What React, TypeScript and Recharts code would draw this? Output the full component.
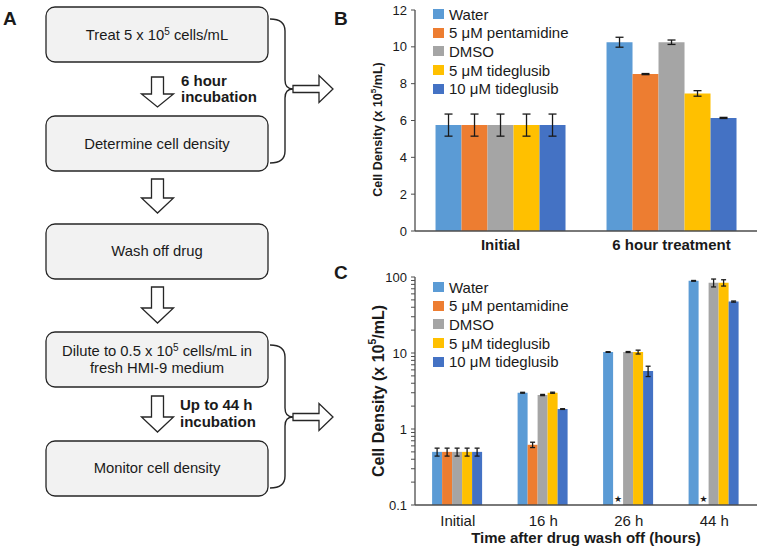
import React from 'react';
import { BarChart, Bar, XAxis, YAxis, ErrorBar, Legend, Rectangle } from 'recharts';

const FONT = '"Liberation Sans", Arial, sans-serif';
const INK = '#1a1a1a';
const AXIS = '#4d4d4d';

// series shared by both charts
const seriesKeys = ['water', 'pentamidine', 'dmso', 'tide5', 'tide10'];
const seriesNames = ['Water', '5 μM pentamidine', 'DMSO', '5 μM tideglusib', '10 μM tideglusib'];
const seriesColors = ['#5B9BD5', '#ED7D31', '#A5A5A5', '#FFC000', '#4472C4'];

// panel B: 6 hour treatment (x 10^5 cells/mL)
const treatmentLabels = ['Initial', '6 hour treatment'];
const treatWater = [5.75, 10.25];
const treatPent = [5.75, 8.52];
const treatDmso = [5.75, 10.25];
const treatTide5 = [5.75, 7.47];
const treatTide10 = [5.75, 6.14];
const treatWaterErr = [0.6, 0.27];
const treatPentErr = [0.6, 0.03];
const treatDmsoErr = [0.6, 0.12];
const treatTide5Err = [0.6, 0.15];
const treatTide10Err = [0.6, 0.03];
const treatTicks = [0, 2, 4, 6, 8, 10, 12];

// panel C: after wash off (log scale)
const washLabels = ['Initial', '16 h', '26 h', '44 h'];
const washWater = [0.5, 3.0, 10.3, 89];
const washPent = [0.5, 0.62, null, null];
const washDmso = [0.5, 2.8, 10.3, 84];
const washTide5 = [0.5, 3.0, 10.3, 84];
const washTide10 = [0.5, 1.83, 5.8, 47.5];
const washWaterErr = [0.06, 0.04, 0.1, 1];
const washPentErr = [0.06, 0.05, null, null];
const washDmsoErr = [0.06, 0.05, 0.15, 10];
const washTide5Err = [0.06, 0.05, 0.6, 8];
const washTide10Err = [0.06, 0.02, 0.9, 0.8];
const washPentStar = [false, false, true, true];
const LOG_FLOOR = 0.1;
const logMajorTicks = [0.1, 1, 10, 100];
const logTicks = [
  0.1, 0.2, 0.3, 0.4, 0.5, 0.6, 0.7, 0.8, 0.9,
  1, 2, 3, 4, 5, 6, 7, 8, 9,
  10, 20, 30, 40, 50, 60, 70, 80, 90, 100,
];

function buildRows(labels: string[], means: (number | null)[][], errs: (number | null)[][]) {
  return labels.map((label, i) => {
    const row: any = { label };
    seriesKeys.forEach((k, s) => {
      row[k] = means[s][i];
      row[k + 'Err'] = errs[s][i];
    });
    return row;
  });
}

const treatmentData = buildRows(
  treatmentLabels,
  [treatWater, treatPent, treatDmso, treatTide5, treatTide10],
  [treatWaterErr, treatPentErr, treatDmsoErr, treatTide5Err, treatTide10Err]
);

const washData = buildRows(
  washLabels,
  [washWater, washPent, washDmso, washTide5, washTide10],
  [washWaterErr, washPentErr, washDmsoErr, washTide5Err, washTide10Err]
).map((row, i) => ({
  ...row,
  pentamidine: row.pentamidine ?? LOG_FLOOR, // no growth: sits on the axis, marked with a star
  star: washPentStar[i],
}));

const LegendBlock = () => (
  <div style={{ fontFamily: FONT, fontSize: 15, color: INK, lineHeight: 1 }}>
    {seriesNames.map((name, i) => (
      <div key={name} style={{ display: 'flex', alignItems: 'center', height: 18.6, whiteSpace: 'nowrap' }}>
        <span style={{ display: 'inline-block', width: 11, height: 10, background: seriesColors[i], marginRight: 5 }} />
        {name}
      </div>
    ))}
  </div>
);

const yTitle = (dxFromLeft: number, shift: number, size: number) => (props: any) => {
  const vb = props.viewBox;
  const cx = vb.x + dxFromLeft;
  const cy = vb.y + vb.height / 2 + shift;
  return (
    <text
      x={cx}
      y={cy}
      transform={`rotate(-90, ${cx}, ${cy})`}
      textAnchor="middle"
      dominantBaseline="central"
      fontFamily={FONT}
      fontWeight="bold"
      fontSize={size}
      fill={INK}
    >
      Cell Density (x 10
      <tspan dy={-size * 0.4} fontSize={size * 0.65}>5</tspan>
      <tspan dy={size * 0.4}>/mL)</tspan>
    </text>
  );
};

const xTitle = (props: any) => {
  const vb = props.viewBox;
  return (
    <text x={vb.x + vb.width / 2} y={vb.y + 38} textAnchor="middle" fontFamily={FONT} fontWeight="bold" fontSize={15} fill={INK}>
      Time after drug wash off (hours)
    </text>
  );
};

// pentamidine bar: normal rectangle, plus a star where no growth was seen
const PentShape = (props: any) => {
  const { x, y, width, payload } = props;
  return (
    <g>
      <Rectangle {...props} />
      {payload && payload.star && (
        <text x={x + width / 2} y={y - 3} textAnchor="middle" fontSize={9} fontFamily="DejaVu Sans" fill={INK}>
          ★
        </text>
      )}
    </g>
  );
};

function TreatmentChart() {
  return (
    <BarChart
      width={401}
      height={262}
      data={treatmentData}
      margin={{ top: 10, right: 4, left: 0, bottom: 0 }}
      barCategoryGap="12%"
      barGap={0}
    >
      <XAxis
        dataKey="label"
        height={31}
        tickLine={false}
        axisLine={{ stroke: AXIS, strokeWidth: 1.3 }}
        tick={{ fontFamily: FONT, fontSize: 15, fontWeight: 'bold', fill: INK }}
      />
      <YAxis
        width={55}
        domain={[0, 12]}
        ticks={treatTicks}
        interval={0}
        tickSize={4}
        tickMargin={4}
        axisLine={{ stroke: AXIS, strokeWidth: 1.3 }}
        tickLine={{ stroke: AXIS }}
        tick={{ fontFamily: FONT, fontSize: 13, fill: INK }}
        label={yTitle(18, 9, 12.5)}
      />
      <Legend
        layout="horizontal"
        verticalAlign="middle"
        align="center"
        content={() => <LegendBlock />}
        wrapperStyle={{ left: 73, top: 5, width: 'auto' }}
      />
      {seriesKeys.map((k, i) => (
        <Bar key={k} dataKey={k} name={seriesNames[i]} fill={seriesColors[i]} isAnimationActive={false}>
          <ErrorBar dataKey={k + 'Err'} width={4} strokeWidth={1.3} stroke={INK} direction="y" />
        </Bar>
      ))}
    </BarChart>
  );
}

function WashChart() {
  return (
    <BarChart
      width={401}
      height={277}
      data={washData}
      margin={{ top: 7, right: 4, left: 0, bottom: 0 }}
      barCategoryGap="20%"
      barGap={0}
    >
      <XAxis
        dataKey="label"
        height={42}
        tickLine={false}
        tickMargin={4}
        axisLine={{ stroke: AXIS, strokeWidth: 1.3 }}
        tick={{ fontFamily: FONT, fontSize: 15, fill: INK }}
        label={xTitle}
      />
      <YAxis
        width={55}
        scale="log"
        domain={[LOG_FLOOR, 100]}
        allowDataOverflow
        ticks={logTicks}
        interval={0}
        tickSize={4}
        tickMargin={4}
        tickFormatter={(v: number) => (logMajorTicks.includes(v) ? String(v) : '')}
        axisLine={{ stroke: AXIS, strokeWidth: 1.3 }}
        tickLine={{ stroke: AXIS }}
        tick={{ fontFamily: FONT, fontSize: 13, fill: INK }}
        label={yTitle(18, 0, 16)}
      />
      <Legend
        layout="horizontal"
        verticalAlign="middle"
        align="center"
        content={() => <LegendBlock />}
        wrapperStyle={{ left: 73, top: 8, width: 'auto' }}
      />
      {seriesKeys.map((k, i) => (
        <Bar
          key={k}
          dataKey={k}
          name={seriesNames[i]}
          fill={seriesColors[i]}
          isAnimationActive={false}
          shape={k === 'pentamidine' ? PentShape : undefined}
        >
          <ErrorBar dataKey={k + 'Err'} width={2.5} strokeWidth={1.3} stroke={INK} direction="y" />
        </Bar>
      ))}
    </BarChart>
  );
}

// flowchart (panel A)
const BOX_X = 46;
const BOX_W = 222;
const BOX_H = 55;
const boxTops = [7, 116, 224, 332, 441];
const downArrows = [
  [77, 94, 107],
  [179, 198, 213],
  [287, 308, 323],
  [396, 417, 432],
];
const braces = [
  [19, 89, 163],
  [345, 417, 488],
];

function DownArrow({ top, head, tip }: { top: number; head: number; tip: number }) {
  const cx = 157.5;
  const pts = [
    [cx - 6, top], [cx + 6, top], [cx + 6, head], [cx + 16, head],
    [cx, tip], [cx - 16, head], [cx - 6, head],
  ].map((p) => p.join(',')).join(' ');
  return <polygon points={pts} fill="#fff" stroke="#262626" strokeWidth={1.3} strokeLinejoin="miter" />;
}

function Brace({ top, mid, bottom }: { top: number; mid: number; bottom: number }) {
  const d = `M270,${top} Q285,${top} 285,${top + 12} L285,${mid - 9} Q285,${mid} 293,${mid} Q285,${mid} 285,${mid + 9} L285,${bottom - 12} Q285,${bottom} 270,${bottom}`;
  const pts = [
    [293, mid - 3.5], [319, mid - 3.5], [319, mid - 13.5], [333, mid],
    [319, mid + 13.5], [319, mid + 3.5], [293, mid + 3.5],
  ].map((p) => p.join(',')).join(' ');
  return (
    <g>
      <path d={d} fill="none" stroke="#262626" strokeWidth={1.4} />
      <polygon points={pts} fill="#fff" stroke="#262626" strokeWidth={1.3} />
    </g>
  );
}

function Flowchart() {
  const t = { fontFamily: FONT, fontSize: 14.8, fill: INK, textAnchor: 'middle' as const };
  const b = { fontFamily: FONT, fontSize: 15, fontWeight: 'bold' as const, fill: INK };
  const cx = BOX_X + BOX_W / 2;
  return (
    <svg width={761} height={547} style={{ position: 'absolute', left: 0, top: 0 }}>
      <text x={3} y={25} fontFamily={FONT} fontWeight="bold" fontSize={19} fill={INK}>A</text>
      <text x={334} y={25} fontFamily={FONT} fontWeight="bold" fontSize={19} fill={INK}>B</text>
      <text x={334} y={279} fontFamily={FONT} fontWeight="bold" fontSize={19} fill={INK}>C</text>
      {boxTops.map((y) => (
        <rect key={y} x={BOX_X} y={y} width={BOX_W} height={BOX_H} rx={9} fill="#F2F2F2" stroke="#262626" strokeWidth={1.3} />
      ))}
      <text x={cx} y={40} {...t}>
        Treat 5 x 10<tspan dy={-5} fontSize={10}>5</tspan><tspan dy={5}> cells/mL</tspan>
      </text>
      <text x={cx} y={149} {...t}>Determine cell density</text>
      <text x={cx} y={256} {...t}>Wash off drug</text>
      <text x={cx} y={356} {...t}>
        Dilute to 0.5 x 10<tspan dy={-5} fontSize={10}>5</tspan><tspan dy={5}> cells/mL in</tspan>
      </text>
      <text x={cx} y={373} {...t}>fresh HMI-9 medium</text>
      <text x={cx} y={473} {...t}>Monitor cell density</text>
      {downArrows.map(([top, head, tip]) => (
        <DownArrow key={top} top={top} head={head} tip={tip} />
      ))}
      <text x={181} y={86} {...b}>6 hour</text>
      <text x={181} y={102} {...b}>incubation</text>
      <text x={180} y={410} {...b}>Up to 44 h</text>
      <text x={180} y={427} {...b}>incubation</text>
      {braces.map(([top, mid, bottom]) => (
        <Brace key={top} top={top} mid={mid} bottom={bottom} />
      ))}
    </svg>
  );
}

export default function App() {
  return (
    <div style={{ position: 'absolute', left: 0, top: 0, width: 761, height: 547, background: '#fff', overflow: 'hidden' }}>
      <Flowchart />
      <div style={{ position: 'absolute', left: 360, top: 0 }}>
        <TreatmentChart />
      </div>
      <div style={{ position: 'absolute', left: 360, top: 270 }}>
        <WashChart />
      </div>
    </div>
  );
}
